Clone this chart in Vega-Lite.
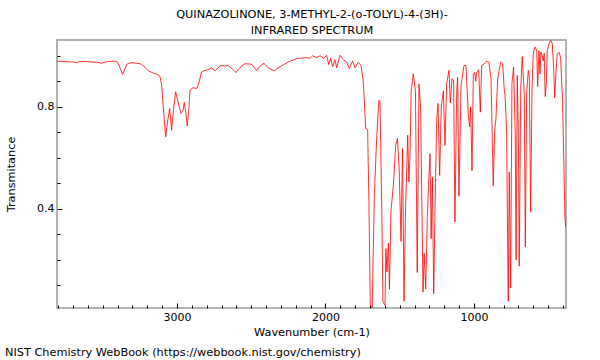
{
  "$schema": "https://vega.github.io/schema/vega-lite/v6.json",
  "autosize": "none",
  "width": 509,
  "height": 268,
  "padding": {"left": 57, "top": 40, "right": 34, "bottom": 52},
  "config": {
    "font": "DejaVu Sans",
    "view": {"stroke": "#999999", "strokeWidth": 1.5},
    "axis": {"domain": false, "grid": false, "tickColor": "#000000", "labelColor": "#000000", "titleColor": "#000000", "labelFontSize": 11, "titleFontSize": 11.3, "titleFontWeight": "normal", "labelFont": "DejaVu Sans", "titleFont": "DejaVu Sans"}
  },
  "title": {"text": "NIST Chemistry WebBook (https://webbook.nist.gov/chemistry)", "orient": "bottom", "anchor": "start", "frame": "bounds", "fontSize": 11.3, "fontWeight": "normal", "font": "DejaVu Sans", "color": "#000000", "offset": 10},
  "data": {"values": [
    {"wn": 3808, "t": 0.979}, {"wn": 3760, "t": 0.978}, {"wn": 3720, "t": 0.976}, {"wn": 3690, "t": 0.975}, {"wn": 3675, "t": 0.972}, {"wn": 3660, "t": 0.977}, {"wn": 3620, "t": 0.978}, {"wn": 3586, "t": 0.976}, {"wn": 3540, "t": 0.975}, {"wn": 3507, "t": 0.971}, {"wn": 3480, "t": 0.976}, {"wn": 3451, "t": 0.978}, {"wn": 3420, "t": 0.979}, {"wn": 3400, "t": 0.975}, {"wn": 3385, "t": 0.955}, {"wn": 3366, "t": 0.927}, {"wn": 3350, "t": 0.95}, {"wn": 3335, "t": 0.968}, {"wn": 3310, "t": 0.973}, {"wn": 3283, "t": 0.972}, {"wn": 3250, "t": 0.969}, {"wn": 3238, "t": 0.966}, {"wn": 3215, "t": 0.955}, {"wn": 3190, "t": 0.94}, {"wn": 3170, "t": 0.935}, {"wn": 3148, "t": 0.93}, {"wn": 3128, "t": 0.926}, {"wn": 3114, "t": 0.918}, {"wn": 3103, "t": 0.885}, {"wn": 3090, "t": 0.78}, {"wn": 3076, "t": 0.682}, {"wn": 3064, "t": 0.74}, {"wn": 3049, "t": 0.793}, {"wn": 3036, "t": 0.708}, {"wn": 3023, "t": 0.79}, {"wn": 3009, "t": 0.859}, {"wn": 2993, "t": 0.82}, {"wn": 2973, "t": 0.774}, {"wn": 2959, "t": 0.785}, {"wn": 2951, "t": 0.817}, {"wn": 2941, "t": 0.78}, {"wn": 2931, "t": 0.725}, {"wn": 2919, "t": 0.8}, {"wn": 2912, "t": 0.865}, {"wn": 2892, "t": 0.875}, {"wn": 2867, "t": 0.872}, {"wn": 2855, "t": 0.89}, {"wn": 2845, "t": 0.911}, {"wn": 2834, "t": 0.937}, {"wn": 2823, "t": 0.941}, {"wn": 2800, "t": 0.944}, {"wn": 2766, "t": 0.953}, {"wn": 2744, "t": 0.941}, {"wn": 2710, "t": 0.961}, {"wn": 2654, "t": 0.961}, {"wn": 2630, "t": 0.95}, {"wn": 2603, "t": 0.934}, {"wn": 2575, "t": 0.955}, {"wn": 2542, "t": 0.969}, {"wn": 2497, "t": 0.967}, {"wn": 2463, "t": 0.941}, {"wn": 2440, "t": 0.96}, {"wn": 2414, "t": 0.971}, {"wn": 2385, "t": 0.953}, {"wn": 2347, "t": 0.941}, {"wn": 2306, "t": 0.957}, {"wn": 2250, "t": 0.976}, {"wn": 2194, "t": 0.989}, {"wn": 2127, "t": 0.993}, {"wn": 2104, "t": 0.99}, {"wn": 2086, "t": 1.0}, {"wn": 2059, "t": 0.993}, {"wn": 2037, "t": 1.0}, {"wn": 2010, "t": 0.99}, {"wn": 1992, "t": 1.002}, {"wn": 1978, "t": 0.966}, {"wn": 1965, "t": 0.99}, {"wn": 1951, "t": 0.957}, {"wn": 1936, "t": 0.985}, {"wn": 1924, "t": 0.953}, {"wn": 1902, "t": 1.002}, {"wn": 1880, "t": 0.985}, {"wn": 1857, "t": 0.975}, {"wn": 1840, "t": 0.95}, {"wn": 1817, "t": 0.98}, {"wn": 1801, "t": 0.953}, {"wn": 1779, "t": 0.974}, {"wn": 1761, "t": 0.963}, {"wn": 1745, "t": 0.898}, {"wn": 1729, "t": 0.715}, {"wn": 1716, "t": 0.712}, {"wn": 1707, "t": 0.414}, {"wn": 1698, "t": 0.022}, {"wn": 1685, "t": 0.012}, {"wn": 1671, "t": 0.45}, {"wn": 1655, "t": 0.678}, {"wn": 1640, "t": 0.826}, {"wn": 1633, "t": 0.82}, {"wn": 1621, "t": 0.414}, {"wn": 1613, "t": 0.035}, {"wn": 1599, "t": 0.022}, {"wn": 1593, "t": 0.244}, {"wn": 1586, "t": 0.153}, {"wn": 1576, "t": 0.265}, {"wn": 1569, "t": 0.085}, {"wn": 1559, "t": 0.39}, {"wn": 1543, "t": 0.49}, {"wn": 1527, "t": 0.649}, {"wn": 1515, "t": 0.676}, {"wn": 1503, "t": 0.545}, {"wn": 1491, "t": 0.272}, {"wn": 1481, "t": 0.636}, {"wn": 1471, "t": 0.037}, {"wn": 1460, "t": 0.414}, {"wn": 1446, "t": 0.689}, {"wn": 1438, "t": 0.505}, {"wn": 1431, "t": 0.6}, {"wn": 1423, "t": 0.86}, {"wn": 1409, "t": 0.93}, {"wn": 1394, "t": 0.86}, {"wn": 1382, "t": 0.15}, {"wn": 1370, "t": 0.89}, {"wn": 1359, "t": 0.8}, {"wn": 1343, "t": 0.073}, {"wn": 1335, "t": 0.225}, {"wn": 1325, "t": 0.086}, {"wn": 1314, "t": 0.367}, {"wn": 1306, "t": 0.49}, {"wn": 1296, "t": 0.616}, {"wn": 1288, "t": 0.283}, {"wn": 1280, "t": 0.525}, {"wn": 1271, "t": 0.067}, {"wn": 1259, "t": 0.5}, {"wn": 1251, "t": 0.746}, {"wn": 1242, "t": 0.813}, {"wn": 1231, "t": 0.531}, {"wn": 1220, "t": 0.8}, {"wn": 1206, "t": 0.862}, {"wn": 1195, "t": 0.649}, {"wn": 1184, "t": 0.89}, {"wn": 1168, "t": 0.943}, {"wn": 1159, "t": 0.815}, {"wn": 1148, "t": 0.91}, {"wn": 1137, "t": 0.905}, {"wn": 1128, "t": 0.348}, {"wn": 1116, "t": 0.86}, {"wn": 1110, "t": 0.916}, {"wn": 1101, "t": 0.45}, {"wn": 1087, "t": 0.884}, {"wn": 1067, "t": 0.962}, {"wn": 1054, "t": 0.962}, {"wn": 1038, "t": 0.772}, {"wn": 1029, "t": 0.721}, {"wn": 1022, "t": 0.8}, {"wn": 1013, "t": 0.55}, {"wn": 1004, "t": 0.929}, {"wn": 995, "t": 0.935}, {"wn": 988, "t": 0.9}, {"wn": 982, "t": 0.935}, {"wn": 968, "t": 0.945}, {"wn": 957, "t": 0.779}, {"wn": 948, "t": 0.962}, {"wn": 932, "t": 0.968}, {"wn": 914, "t": 0.979}, {"wn": 899, "t": 0.975}, {"wn": 885, "t": 0.91}, {"wn": 870, "t": 0.491}, {"wn": 860, "t": 0.707}, {"wn": 852, "t": 0.753}, {"wn": 840, "t": 0.91}, {"wn": 820, "t": 0.975}, {"wn": 807, "t": 0.97}, {"wn": 796, "t": 0.87}, {"wn": 789, "t": 0.831}, {"wn": 780, "t": 0.7}, {"wn": 769, "t": 0.037}, {"wn": 762, "t": 0.544}, {"wn": 753, "t": 0.09}, {"wn": 744, "t": 0.89}, {"wn": 733, "t": 0.956}, {"wn": 722, "t": 0.7}, {"wn": 716, "t": 0.2}, {"wn": 708, "t": 0.923}, {"wn": 701, "t": 0.7}, {"wn": 695, "t": 0.175}, {"wn": 685, "t": 0.87}, {"wn": 675, "t": 0.997}, {"wn": 661, "t": 0.85}, {"wn": 654, "t": 0.25}, {"wn": 645, "t": 0.85}, {"wn": 634, "t": 0.943}, {"wn": 627, "t": 0.92}, {"wn": 618, "t": 0.387}, {"wn": 609, "t": 0.87}, {"wn": 600, "t": 1.015}, {"wn": 589, "t": 1.035}, {"wn": 577, "t": 1.02}, {"wn": 571, "t": 0.88}, {"wn": 562, "t": 1.02}, {"wn": 555, "t": 0.929}, {"wn": 549, "t": 1.015}, {"wn": 540, "t": 1.0}, {"wn": 533, "t": 0.98}, {"wn": 527, "t": 1.01}, {"wn": 520, "t": 0.84}, {"wn": 513, "t": 0.89}, {"wn": 506, "t": 1.021}, {"wn": 493, "t": 1.05}, {"wn": 481, "t": 1.06}, {"wn": 472, "t": 1.047}, {"wn": 463, "t": 0.95}, {"wn": 456, "t": 0.836}, {"wn": 448, "t": 0.93}, {"wn": 439, "t": 1.008}, {"wn": 425, "t": 1.013}, {"wn": 416, "t": 0.99}, {"wn": 403, "t": 0.82}, {"wn": 387, "t": 0.365}, {"wn": 382, "t": 0.33}
  ]},
  "resolve": {"axis": {"x": "independent", "y": "independent"}},
  "layer": [
    {
      "mark": {"type": "line", "color": "#ff0000", "strokeWidth": 1, "opacity": 0.8, "clip": true},
      "encoding": {
        "x": {
          "field": "wn", "type": "quantitative",
          "scale": {"domain": [3808, 380], "nice": false, "zero": false},
          "axis": {
            "orient": "bottom", "title": "Wavenumber (cm-1)",
            "values": [3800, 3700, 3600, 3500, 3400, 3300, 3200, 3100, 3000, 2900, 2800, 2700, 2600, 2500, 2400, 2300, 2200, 2100, 2000, 1900, 1800, 1700, 1600, 1500, 1400, 1300, 1200, 1100, 1000, 900, 800, 700, 600, 500, 400],
            "format": "d",
            "labelExpr": "datum.value % 1000 == 0 ? datum.label : ''",
            "tickSize": {"condition": {"test": "datum.value % 1000 == 0", "value": -5}, "value": -3},
            "labelPadding": 8, "labelFlush": false, "labelOverlap": false,
            "titleY": 18, "titleBaseline": "top"
          }
        },
        "y": {
          "field": "t", "type": "quantitative",
          "scale": {"domain": [0.011, 1.062], "nice": false, "zero": false},
          "axis": {
            "title": "Transmitance",
            "values": [0.1, 0.2, 0.3, 0.4, 0.5, 0.6, 0.7, 0.8, 0.9, 1.0],
            "format": ".1f",
            "labelExpr": "(datum.value == 0.4 || datum.value == 0.8) ? datum.label : ''",
            "tickSize": {"condition": {"test": "datum.value == 0.4 || datum.value == 0.8", "value": -5}, "value": -3},
            "labelPadding": 8, "labelFlush": false, "labelOverlap": false,
            "titleX": -41, "titleBaseline": "bottom"
          }
        }
      }
    },
    {
      "mark": {"type": "line", "opacity": 0},
      "encoding": {
        "x": {
          "field": "wn", "type": "quantitative",
          "axis": {
            "orient": "top",
            "title": ["QUINAZOLINONE, 3-METHYL-2-(o-TOLYL)-4-(3H)-", "INFRARED SPECTRUM"],
            "labels": false, "ticks": false, "domain": false,
            "titleLineHeight": 16, "titleBaseline": "middle", "titleY": -26
          }
        },
        "y": {"field": "t", "type": "quantitative", "axis": null}
      }
    }
  ]
}
